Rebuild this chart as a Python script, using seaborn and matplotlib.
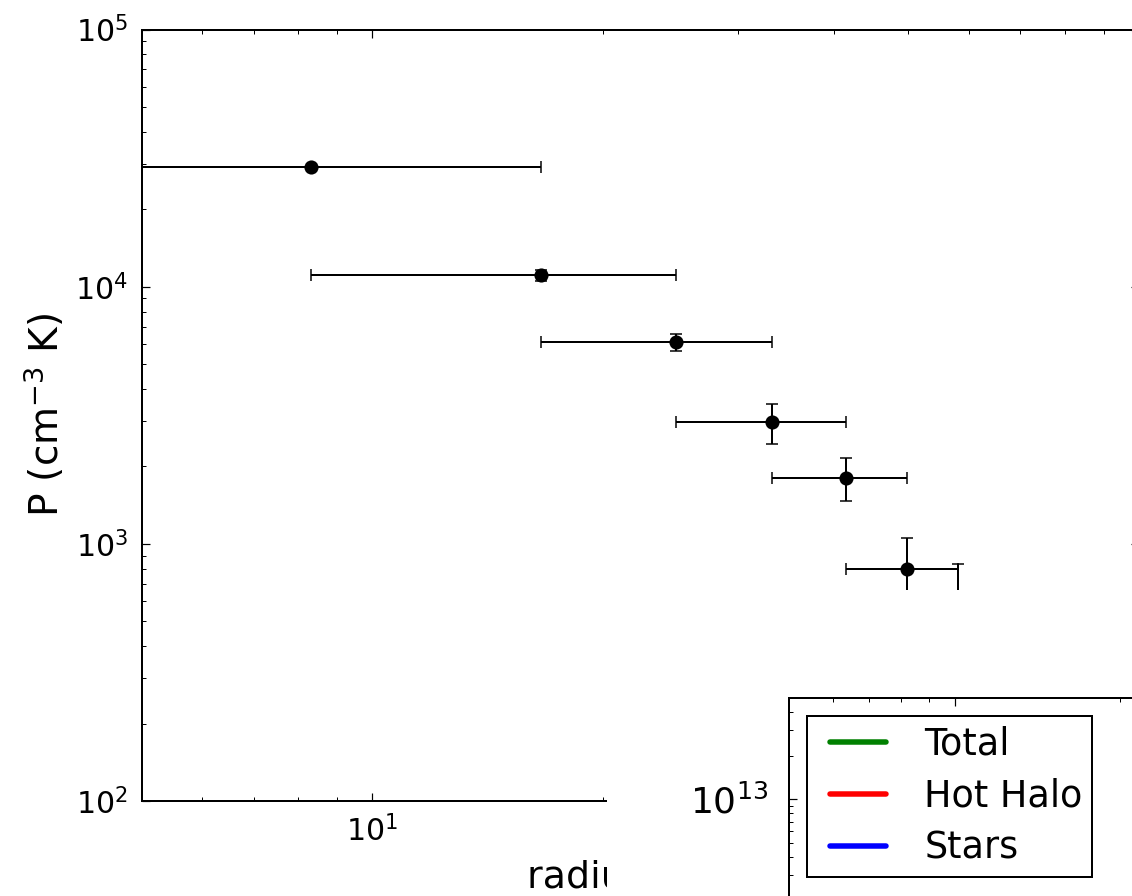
import matplotlib
matplotlib.use("Agg")
import matplotlib.pyplot as plt
from matplotlib.lines import Line2D
from matplotlib.legend_handler import HandlerLine2D
from matplotlib.patches import Rectangle
import seaborn as sns
import numpy as np

# ---- data ----
radius = [8.31, 16.62, 24.93, 33.24, 41.55, 49.86, 58.17]          # kpc
radius_err = [8.31, 8.31, 8.31, 8.31, 8.31, 8.31, 8.31]
pressure = [29130, 11105, 6080, 2970, 1810, 797, 520]             # cm^-3 K
pressure_err = [0, 545, 455, 515, 340, 255, 318]

legend_labels = ["Total", "Hot Halo", "Stars"]
legend_colors = ["#008000", "#ff0000", "#0000ff"]

xlabel = "radius (kpc)"
ylabel = r"P (cm$^{-3}$ K)"

# ---- layout ----
sns.set_style("white")
plt.rcParams['font.family'] = ['DejaVu Sans']
plt.rcParams['mathtext.fontset'] = 'dejavusans'
for k in ["text.color", "axes.labelcolor", "xtick.color", "ytick.color"]:
    plt.rcParams[k] = "black"

W, H = 1132, 896
DPI = 72
fig = plt.figure(figsize=(W / DPI, H / DPI), dpi=DPI)
fig.patch.set_facecolor("white")


def px_rect(l, t, r, b):
    return [l / W, 1 - b / H, (r - l) / W, (b - t) / H]


def style_axes(ax, labelsize, pad):
    ax.set_facecolor("white")
    for s in ax.spines.values():
        s.set_linewidth(2)
        s.set_color("black")
        s.set_visible(True)
    ax.tick_params(which="both", direction="in", top=True, right=True,
                   bottom=True, left=True, colors="black")
    ax.tick_params(which="major", length=8, width=1.2, labelsize=labelsize, pad=pad)
    ax.tick_params(which="minor", length=4, width=1.0)


# main axes
ax = fig.add_axes(px_rect(141.6, 29.5, 1138.8, 801.1))
ax.set_xscale("log")
ax.set_yscale("log")
ax.set_xlim(5, 100)
ax.set_ylim(1e2, 1e5)
style_axes(ax, 30, 14)

ax.errorbar(radius, pressure, xerr=radius_err, yerr=pressure_err, fmt="none",
            ecolor="black", elinewidth=2, capsize=6, capthick=1.5, zorder=2)
sns.scatterplot(x=radius, y=pressure, ax=ax, color="black", s=200,
                linewidth=0, zorder=3, legend=False)
ax.set_xlabel(xlabel, fontsize=38, labelpad=12)
ax.set_ylabel(ylabel, fontsize=39, labelpad=8)

# white cover (composite overlap region)
fig.add_artist(Rectangle((607 / W, 0), 1, 1 - 590 / H, transform=fig.transFigure,
                         facecolor="white", edgecolor="none", zorder=1))

# second axes (mostly cut off)
ax2 = fig.add_axes(px_rect(789, 698, 1504.6, 1089))
ax2.set_zorder(2)
ax2.set_xscale("log")
ax2.set_yscale("log")
ax2.set_xlim(5, 100)
ax2.set_ylim(1e11, 5e13)
style_axes(ax2, 36, 21)

handles = [Line2D([], [], color=c, lw=5.5) for c in legend_colors]
leg = ax2.legend(handles, legend_labels, loc="upper left",
                 bbox_to_anchor=(807 / W, 1 - 716 / H), bbox_transform=fig.transFigure,
                 borderaxespad=0, fontsize=36.5, frameon=True, fancybox=False,
                 handlelength=1.89, handletextpad=1.05, labelspacing=0.41,
                 borderpad=0.27,
                 handler_map={Line2D: HandlerLine2D(xpad=0.36)})
leg.get_frame().set_edgecolor("black")
leg.get_frame().set_linewidth(2)
leg.get_frame().set_alpha(1)

fig.savefig("out.png", dpi=DPI)
